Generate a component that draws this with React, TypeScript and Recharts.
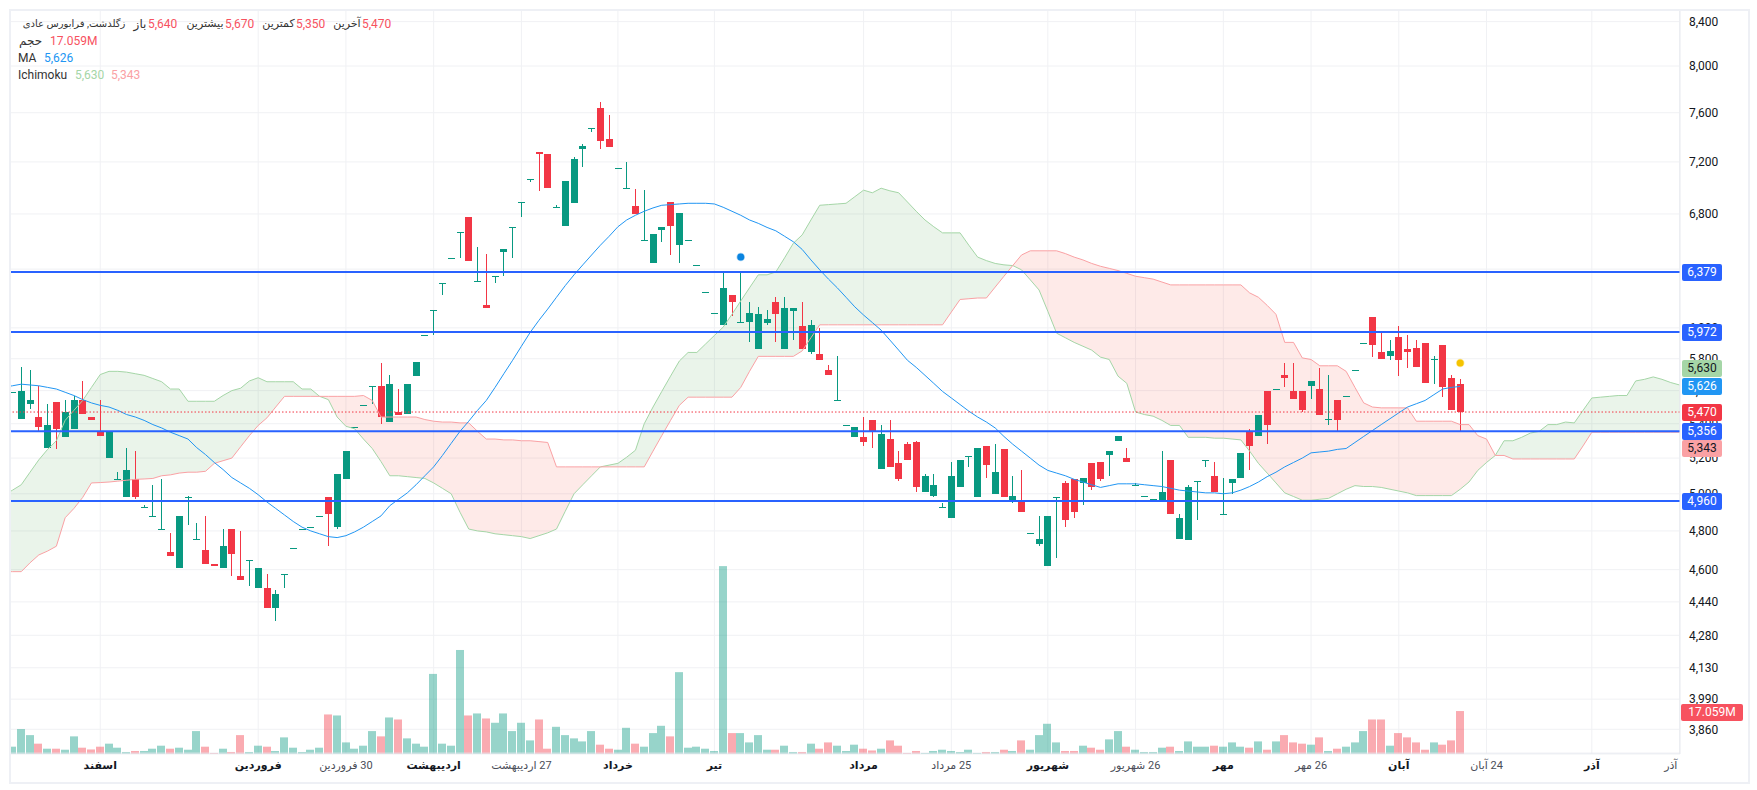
import React from "react";
import { ComposedChart, CartesianGrid, XAxis, YAxis, Area, Bar, Line, ReferenceLine, ReferenceDot } from "recharts";

const opens = [5590,5430,5520,5440,5260,5530,5320,5370,5540,5440,5360,5200,5080,4980,5080,4930,4880,4810,4690,4610,4980,4760,4700,4630,4610,4810,4570,4650,4510,4510,4410,4580,4710,4810,4820,4880,4980,4820,5080,5380,5510,5630,5630,5410,5470,5460,5690,5950,6120,6300,6480,6670,6780,6320,6150,6350,6520,6700,6890,7070,7280,7260,6850,6710,6880,7300,7470,7640,7380,7150,7000,6860,6610,6440,6680,6890,6570,6610,6430,6240,6100,6020,6220,6040,6040,5860,6030,6170,5860,6110,6010,5840,5830,5730,5540,5390,5320,5320,5420,5140,5310,5170,5280,5290,5010,4990,4930,4870,5040,5210,4980,5270,5000,5250,4960,4960,4790,4730,4620,4980,5060,5080,5060,5170,5180,5220,5300,5200,5050,4990,4970,4960,5190,4760,4750,5070,5190,5100,4890,5060,5090,5360,5330,5600,5610,5700,5600,5600,5630,5610,5420,5540,5570,5730,5900,6070,5840,5820,5940,5860,5870,5900,5800,5890,5680,5640];
const highs = [5590,5750,5730,5630,5520,5530,5540,5570,5660,5440,5540,5360,5120,5260,5240,4940,5050,5080,4790,4880,4990,4840,4880,4630,4810,4810,4800,4650,4610,4580,4500,4580,4710,4810,4820,4880,4980,5110,5240,5380,5510,5630,5770,5700,5610,5640,5780,5950,6120,6300,6480,6670,6780,6560,6510,6350,6540,6700,6890,7070,7280,7260,6870,7050,7240,7340,7470,7690,7580,7150,7200,6990,6980,6650,6700,6890,6810,6610,6430,6240,6100,6380,6220,6380,6170,6140,6120,6210,6210,6130,6170,6050,6000,5760,5820,5390,5380,5440,5420,5390,5420,5240,5290,5300,5110,5110,4950,5180,5190,5210,5260,5270,5280,5250,5100,5130,4790,4880,4880,4980,5070,5080,5090,5170,5180,5240,5330,5260,5060,4990,4970,5240,5190,4890,5050,5070,5190,5180,5090,5080,5230,5370,5450,5600,5610,5770,5770,5600,5660,5740,5700,5540,5570,5730,5900,6070,5970,5920,6010,5950,5920,5900,5820,5890,5700,5670];
const lows = [5590,5430,5490,5360,5260,5250,5320,5370,5460,5420,5330,5200,5080,4980,4970,4930,4880,4810,4670,4610,4830,4760,4630,4620,4610,4570,4550,4520,4510,4410,4350,4510,4710,4810,4820,4880,4720,4810,5080,5380,5510,5520,5400,5410,5450,5460,5690,5950,5950,6220,6480,6480,6460,6320,6130,6300,6350,6480,6780,7040,6970,7000,6850,6710,6880,7160,7440,7300,7320,7150,7000,6800,6610,6440,6590,6500,6440,6610,6430,6240,6100,6020,6080,6040,5910,5860,6020,5910,5860,5920,5860,5830,5790,5700,5540,5390,5320,5270,5260,5140,5150,5070,5190,5010,5010,4980,4930,4870,5040,5150,4980,5090,5000,4980,4950,4900,4790,4720,4620,4660,4820,4870,4940,5020,5070,5100,5300,5180,5050,4990,4970,4960,4890,4760,4750,4860,5150,5010,4890,5000,5090,5130,5330,5280,5610,5620,5550,5470,5550,5450,5390,5350,5570,5730,5900,5810,5800,5790,5690,5740,5750,5650,5640,5560,5480,5350];
const closes = [5590,5600,5540,5380,5390,5370,5470,5540,5460,5420,5330,5360,5080,5130,4980,4930,4880,4810,4670,4880,4980,4760,4630,4620,4720,4680,4550,4650,4610,4410,4480,4580,4710,4810,4820,4880,4890,5110,5240,5380,5510,5630,5440,5640,5450,5640,5780,5950,6120,6300,6480,6670,6460,6320,6130,6350,6540,6700,6890,7070,7260,7000,6850,7050,7220,7330,7470,7370,7320,7150,7000,6800,6610,6650,6700,6710,6810,6610,6430,6240,6100,6270,6170,6040,6100,6090,6060,6090,6130,6130,5860,6020,5790,5700,5540,5390,5380,5290,5360,5340,5150,5080,5190,5040,5100,5050,4930,5100,5190,5210,5260,5160,5120,4980,4990,4900,4790,4760,4880,4980,4860,4900,5090,5040,5080,5240,5330,5180,5050,4990,4970,5010,4890,4870,5040,5070,5190,5010,4890,5080,5230,5270,5450,5390,5610,5680,5550,5480,5660,5450,5430,5420,5570,5730,5900,5890,5800,5850,5790,5840,5750,5650,5800,5620,5480,5470];
const volumesM = [2.9,9.9,7.5,4.1,2.1,2.1,1.7,7.0,2.5,1.8,2.9,4.1,2.5,0.8,1.2,1.2,2.1,3.3,2.1,2.5,1.7,9.1,2.9,0.4,2.1,0.8,7.5,0.8,3.3,2.9,1.2,6.6,2.5,0.8,1.7,2.5,15.7,15.3,4.6,2.1,3.3,9.1,7.0,14.5,13.7,6.2,4.1,2.9,31.8,4.1,3.3,41.3,15.3,16.1,14.1,12.4,16.1,9.1,12.4,5.4,13.7,2.1,10.8,7.5,6.2,5.0,9.1,3.7,2.1,1.7,10.4,4.1,2.9,8.3,11.2,7.0,32.5,2.5,2.9,2.1,1.2,74.6,8.3,8.3,4.6,7.5,1.7,1.7,3.3,0.8,0.8,4.1,2.1,4.6,3.3,1.2,3.7,2.1,1.4,2.1,5.4,3.3,0.4,1.2,0.4,1.2,1.7,1.2,0.8,1.7,0.4,0.8,0.8,1.7,1.2,5.4,1.7,7.5,12.0,4.6,1.2,1.2,3.3,2.5,1.7,5.8,9.1,2.9,1.7,0.8,0.8,2.5,2.9,1.2,5.0,2.9,2.9,3.3,2.9,4.6,2.9,2.5,5.0,1.7,5.0,7.5,4.6,4.1,3.7,6.6,1.2,2.1,2.9,4.6,9.1,13.7,13.7,3.3,8.3,6.6,4.6,1.7,4.6,3.7,5.4,17.059];
// Values from one bar before the first candle, running 25 bars past the last.
const spanA = [4990,5020,5050,5120,5190,5250,5300,5420,5480,5540,5620,5700,5720,5720,5715,5705,5695,5675,5655,5610,5610,5535,5535,5535,5535,5570,5600,5615,5660,5680,5655,5655,5655,5655,5610,5610,5565,5545,5440,5385,5370,5310,5255,5180,5100,5100,5095,5090,5085,5060,5030,5000,4900,4810,4800,4795,4785,4780,4775,4770,4760,4775,4790,4810,4905,5000,5050,5100,5150,5160,5170,5205,5245,5400,5500,5595,5690,5785,5840,5840,5895,5950,6005,6090,6180,6270,6360,6360,6380,6480,6585,6645,6755,6865,6870,6875,6880,6930,6980,6960,6995,6975,6960,6890,6820,6755,6705,6660,6660,6660,6570,6485,6460,6440,6430,6425,6395,6325,6255,6110,5965,5935,5905,5880,5855,5810,5795,5690,5645,5470,5455,5445,5420,5390,5390,5320,5320,5320,5315,5315,5310,5305,5240,5170,5115,5060,5005,4985,4965,4965,4970,4975,5000,5025,5045,5040,5040,5035,5025,5015,5005,4990,4990,4990,4990,4990,5025,5065,5130,5175,5215,5300,5300,5320,5345,5355,5395,5395,5410,5405,5480,5555,5560,5565,5570,5570,5660,5670,5685,5670,5650,5635];
const spanB = [4590,4590,4590,4635,4675,4695,4720,4870,4920,4980,5060,5062,5065,5070,5075,5080,5082,5085,5100,5105,5115,5120,5120,5125,5170,5185,5200,5265,5330,5390,5435,5500,5565,5565,5565,5565,5565,5565,5565,5565,5565,5570,5540,5440,5440,5440,5440,5440,5425,5415,5410,5410,5405,5405,5355,5310,5310,5305,5305,5300,5300,5295,5290,5150,5150,5150,5150,5150,5150,5150,5150,5150,5150,5150,5240,5330,5420,5510,5560,5560,5560,5560,5560,5560,5620,5720,5815,5815,5815,5815,5815,5850,5935,6020,6020,6020,6020,6020,6020,6020,6020,6020,6020,6020,6020,6020,6020,6020,6105,6190,6195,6200,6200,6275,6350,6425,6500,6530,6530,6530,6530,6510,6485,6465,6440,6420,6405,6390,6370,6350,6340,6330,6310,6290,6290,6290,6290,6290,6290,6290,6290,6290,6235,6205,6150,6090,5905,5905,5805,5795,5755,5755,5755,5720,5620,5525,5500,5495,5495,5495,5495,5415,5415,5415,5415,5415,5395,5395,5330,5310,5215,5215,5195,5195,5195,5195,5195,5195,5195,5195,5270,5350,5350,5350,5350,5350,5350,5350,5350,5350,5350,5350];
const maValues = [5620,5630,5640,5635,5630,5620,5610,5590,5570,5545,5525,5510,5500,5480,5455,5440,5420,5395,5375,5350,5330,5310,5260,5220,5175,5135,5090,5060,5030,4995,4955,4920,4885,4850,4820,4800,4785,4770,4765,4775,4795,4820,4850,4880,4935,4970,5005,5050,5100,5150,5215,5285,5355,5415,5480,5540,5620,5705,5790,5880,5970,6050,6125,6205,6285,6360,6430,6500,6570,6635,6705,6755,6790,6820,6845,6865,6870,6875,6880,6880,6880,6875,6850,6820,6790,6755,6730,6700,6675,6635,6595,6540,6465,6395,6330,6270,6205,6140,6085,6035,5985,5920,5855,5790,5745,5695,5645,5595,5555,5515,5475,5440,5410,5375,5325,5280,5240,5200,5160,5130,5115,5100,5080,5065,5050,5035,5045,5055,5055,5055,5050,5045,5040,5030,5020,5015,5010,5005,5005,5000,5005,5020,5040,5065,5095,5120,5150,5175,5200,5230,5235,5240,5250,5255,5290,5325,5360,5395,5430,5465,5500,5520,5540,5575,5610,5620,5626];

const priceTicks = [8400,8000,7600,7200,6800,6400,6000,5800,5600,5400,5200,5000,4800,4600,4440,4280,4130,3990,3860];
const levelLines = [6379,5972,5356,4960];
const dateTickIndex = [10,28,38,48,58,69,80,97,107,118,128,138,148,158,168,180,189];
const dateTickText = ["اسفند","فروردین","30 فروردین","اردیبهشت","27 اردیبهشت","خرداد","تیر","مرداد","25 مرداد","شهریور","26 شهریور","مهر","26 مهر","آبان","24 آبان","آذر","آذر"];
const dateTickBold = [1,1,0,1,0,1,1,1,0,1,0,1,0,1,0,1,0];
const gridIndex = [10,28,38,48,58,69,80,97,107,118,128,138,148,158,168,180,190];

const rows = spanA.map((a, k) => {
  const i = k - 1;
  return { idx: i, a, b: spanB[k], ma: maValues[k], o: opens[i], h: highs[i], l: lows[i], c: closes[i], vol: volumesM[i] };
});

const GREEN = "#089981";
const RED = "#F23645";
const FONT = "Roboto, 'DejaVu Sans', sans-serif";

function Candle(props: any) {
  const { x, y, width, height, payload } = props;
  if (payload == null || payload.h == null || !Number.isFinite(y)) return null;
  const { o, h, l, c } = payload;
  const span = Math.log(h / l) || 1;
  const px = (v: number) => y + (height * Math.log(h / v)) / span;
  const center = Math.floor(x + width / 2);
  const fill = c >= o ? GREEN : RED;
  const top = Math.round(px(Math.max(o, c)));
  const bottom = Math.round(px(Math.min(o, c)));
  const yHigh = Math.round(y);
  const yLow = Math.round(y + height);
  return (
    <g>
      {yLow > yHigh ? <rect x={center} y={yHigh} width={1} height={yLow - yHigh} fill={fill} /> : null}
      <rect x={center - 3} y={top} width={7} height={Math.max(1, bottom - top)} fill={fill} />
    </g>
  );
}

function VolumeBar(props: any) {
  const { x, y, width, height, payload } = props;
  if (payload == null || payload.vol == null || !Number.isFinite(y)) return null;
  const fill = payload.c >= payload.o ? "rgba(8,153,129,0.42)" : "rgba(242,54,69,0.42)";
  return <rect x={Math.round(x)} y={y} width={width} height={height} fill={fill} />;
}

function DateTick(props: any) {
  const { x, payload } = props;
  const n = dateTickIndex.indexOf(payload.value);
  return (
    <text x={x} y={769} textAnchor="middle" direction="rtl" fontFamily={FONT} fontSize={11} fontWeight={dateTickBold[n] ? 700 : 400} fill={dateTickBold[n] ? "#131722" : "#4a4d57"}>
      {dateTickText[n]}
    </text>
  );
}

const priceBoxes = [
  { text: "6,379", y: 272, bg: "#2962FF", fg: "#fff" },
  { text: "5,972", y: 332, bg: "#2962FF", fg: "#fff" },
  { text: "5,630", y: 368, bg: "#A5D6A7", fg: "#131722" },
  { text: "5,626", y: 386, bg: "#2196F3", fg: "#fff" },
  { text: "5,470", y: 412, bg: "#F23645", fg: "#fff" },
  { text: "5,356", y: 431, bg: "#2962FF", fg: "#fff" },
  { text: "5,343", y: 448, bg: "#FAA1A4", fg: "#131722" },
  { text: "4,960", y: 501, bg: "#2962FF", fg: "#fff" },
];

const legendItems: any[] = [
  { t: "زگلدشت, فرابورس عادی", x: 18, y: 24, c: "#333", w: 112, rtl: true, fs: 10 },
  { t: "باز", x: 132, y: 24, c: "#333", w: 16, rtl: true },
  { t: "5,640", x: 148, y: 24, c: "#F7525F" },
  { t: "بیشترین", x: 185, y: 24, c: "#333", w: 40, rtl: true, fs: 11 },
  { t: "5,670", x: 225, y: 24, c: "#F7525F" },
  { t: "کمترین", x: 261, y: 24, c: "#333", w: 35, rtl: true, fs: 11 },
  { t: "5,350", x: 296, y: 24, c: "#F7525F" },
  { t: "آخرین", x: 332, y: 24, c: "#333", w: 30, rtl: true, fs: 11 },
  { t: "5,470", x: 362, y: 24, c: "#F7525F" },
  { t: "حجم", x: 18, y: 41, c: "#333", w: 25, rtl: true },
  { t: "17.059M", x: 50, y: 41, c: "#F7525F" },
  { t: "MA", x: 18, y: 58, c: "#333" },
  { t: "5,626", x: 44, y: 58, c: "#2196F3" },
  { t: "Ichimoku", x: 18, y: 75, c: "#333" },
  { t: "5,630", x: 75, y: 75, c: "#A5D6A7" },
  { t: "5,343", x: 111, y: 75, c: "#FAA1A4" },
];

export default function App() {
  return (
    <div style={{ position: "absolute", left: 0, top: 0, width: 1757, height: 790, background: "#fff", overflow: "hidden" }}>
      <ComposedChart width={1757} height={790} data={rows} margin={{ top: 10, right: 0, bottom: 7, left: 10 }}>
        <CartesianGrid xAxisId="x" yAxisId="price" stroke="#F0F1F4" verticalValues={gridIndex} />
        <XAxis xAxisId="x" dataKey="idx" type="number" scale="linear" domain={[-0.285, 190.05]} allowDataOverflow ticks={dateTickIndex} interval={0} tick={<DateTick />} tickLine={false} axisLine={false} height={29} />
        <XAxis xAxisId="v" dataKey="idx" type="number" scale="linear" domain={[-0.285, 190.05]} allowDataOverflow hide />
        <YAxis yAxisId="price" orientation="right" scale="log" domain={[3756.6, 8508]} allowDataOverflow ticks={priceTicks} interval={0} width={77} tickLine={false} tickSize={0} tickMargin={9} axisLine={{ stroke: "#E8EAF0" }} tick={{ fontSize: 12, fontFamily: FONT, fill: "#131722" }} tickFormatter={(v: number) => v.toLocaleString("en-US")} />
        <YAxis yAxisId="vol" hide domain={[0, 295.4]} allowDataOverflow />

        <ReferenceLine xAxisId="x" yAxisId="price" y={3760} stroke="#E8EAF0" strokeWidth={1} />
        <Area xAxisId="x" yAxisId="price" dataKey={(r: any) => (r.a >= r.b ? [r.b, r.a] : null)} stroke="none" fill="#43A047" fillOpacity={0.115} isAnimationActive={false} dot={false} activeDot={false} />
        <Area xAxisId="x" yAxisId="price" dataKey={(r: any) => (r.a <= r.b ? [r.a, r.b] : null)} stroke="none" fill="#F44336" fillOpacity={0.115} isAnimationActive={false} dot={false} activeDot={false} />
        <Line xAxisId="x" yAxisId="price" dataKey="a" stroke="#A5D6A7" strokeWidth={1} dot={false} activeDot={false} isAnimationActive={false} />
        <Line xAxisId="x" yAxisId="price" dataKey="b" stroke="#FAA1A4" strokeWidth={1} dot={false} activeDot={false} isAnimationActive={false} />
        <Line xAxisId="x" yAxisId="price" dataKey="ma" stroke="#2196F3" strokeWidth={1} dot={false} activeDot={false} isAnimationActive={false} />

        <ReferenceLine xAxisId="x" yAxisId="price" y={5470} stroke={RED} strokeWidth={1} strokeDasharray="1.5 2" />
        <Bar xAxisId="v" yAxisId="vol" dataKey="vol" barSize={8} shape={<VolumeBar />} isAnimationActive={false} />
        <Bar xAxisId="x" yAxisId="price" dataKey={(r: any) => (r.h == null ? null : [r.l, r.h])} barSize={7} shape={<Candle />} isAnimationActive={false} />

        {levelLines.map((v) => (
          <ReferenceLine key={v} xAxisId="x" yAxisId="price" y={v} stroke="#2962FF" strokeWidth={2} />
        ))}
        <ReferenceDot xAxisId="x" yAxisId="price" x={83} y={6485} r={3.5} fill="#0A84E0" stroke="rgba(10,132,224,0.35)" strokeWidth={1.5} />
        <ReferenceDot xAxisId="x" yAxisId="price" x={165} y={5772} r={3.5} fill="#F5C400" stroke="rgba(245,196,0,0.35)" strokeWidth={1.5} />
      </ComposedChart>

      <div style={{ position: "absolute", left: 9, top: 9, width: 1737, height: 771, border: "2px solid #EEF0F5", pointerEvents: "none" }} />

      {legendItems.map((it, n) => (
        <span key={n} style={{ position: "absolute", left: it.x, top: it.y - 9, height: 18, lineHeight: "18px", width: it.w, textAlign: it.rtl ? "center" : "left", direction: it.rtl ? "rtl" : "ltr", whiteSpace: "nowrap", fontFamily: FONT, fontSize: it.fs || 12, color: it.c }}>
          {it.t}
        </span>
      ))}

      {priceBoxes.map((b) => (
        <div key={b.text} style={{ position: "absolute", left: 1682, top: b.y - 8, width: 40, height: 17, lineHeight: "17px", textAlign: "center", fontFamily: FONT, fontSize: 12, color: b.fg, background: b.bg, borderRadius: 2 }}>
          {b.text}
        </div>
      ))}
      <div style={{ position: "absolute", left: 1681, top: 704, width: 62, height: 17, lineHeight: "17px", textAlign: "center", fontFamily: FONT, fontSize: 12, color: "#fff", background: "#F7525F", borderRadius: 2 }}>
        17.059M
      </div>
    </div>
  );
}
